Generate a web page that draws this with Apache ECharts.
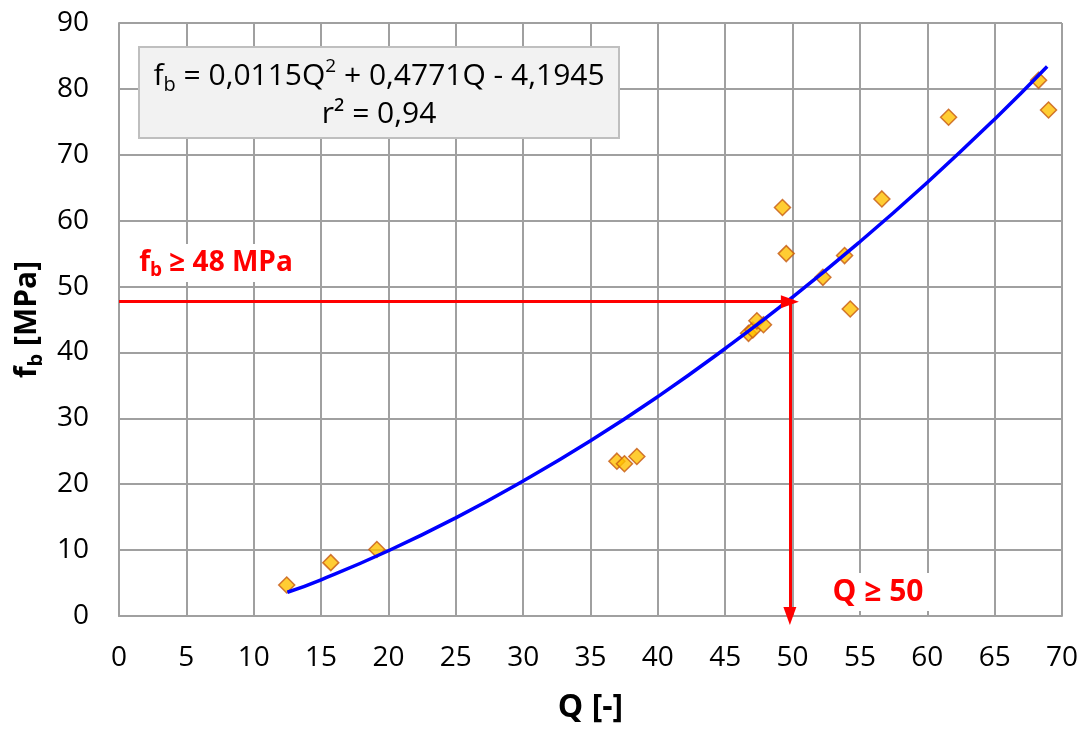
<!DOCTYPE html>
<html>
<head>
<meta charset="utf-8">
<script src="https://cdn.jsdelivr.net/npm/echarts@6/dist/echarts.min.js"></script>
<style>
html,body{margin:0;padding:0;background:#fff;}
#chart{width:1090px;height:731px;}
</style>
</head>
<body>
<div id="chart"></div>
<script>
// Measured points (Q, fb)
const qVals  = [12.45, 15.72, 19.14, 36.96, 37.52, 38.44, 46.73, 47.05, 47.35, 47.84, 49.25, 49.53, 52.25, 53.86, 54.28, 56.63, 61.58, 68.26, 69.0];
const fbVals = [4.7, 8.1, 10.1, 23.5, 23.1, 24.2, 42.9, 43.4, 44.8, 44.2, 62.0, 55.0, 51.4, 54.7, 46.6, 63.3, 75.7, 81.3, 76.8];
// Trend curve
const curveQ  = [12.5, 15, 20, 25, 30, 35, 40, 45, 50, 55, 60, 65, 68.9];
const curveFb = [3.6, 5.5, 9.9, 14.9, 20.5, 26.6, 33.3, 40.6, 48.4, 56.8, 65.8, 75.4, 83.4];
// Threshold arrows
const thresholdQ = 49.8;
const thresholdFb = 47.7;
// Axis ranges
const xMin = 0, xMax = 70, xStep = 5;
const yMin = 0, yMax = 90, yStep = 10;

const FONT = 'Open Sans';
const chart = echarts.init(document.getElementById('chart'));
const scatterData = qVals.map((q, i) => [q, fbVals[i]]);
const curveData = curveQ.map((q, i) => [q, curveFb[i]]);
const gridColor = '#a0a0a0';

chart.setOption({
  animation: false,
  backgroundColor: '#ffffff',
  grid: { left: 119, right: 28, top: 23, bottom: 115 },
  xAxis: {
    type: 'value', min: xMin, max: xMax, interval: xStep,
    name: 'Q [-]', nameLocation: 'middle', nameGap: 76,
    nameTextStyle: { fontFamily: FONT, fontSize: 32, fontWeight: 'bold', color: '#000' },
    axisLine: { lineStyle: { color: gridColor, width: 2 } },
    axisTick: { show: false },
    axisLabel: { fontFamily: FONT, fontSize: 28, color: '#000', margin: 28 },
    splitLine: { show: true, lineStyle: { color: gridColor, width: 2 } }
  },
  yAxis: {
    type: 'value', min: yMin, max: yMax, interval: yStep,
    name: '{m|f}{s|b}{m| [MPa]}', nameLocation: 'middle', nameGap: 72, nameRotate: 90,
    nameTextStyle: {
      rich: {
        m: { fontFamily: FONT, fontSize: 30, fontWeight: 'bold', color: '#000', lineHeight: 38 },
        s: { fontFamily: FONT, fontSize: 20, fontWeight: 'bold', color: '#000', lineHeight: 26, verticalAlign: 'bottom' }
      }
    },
    axisLine: { show: true, lineStyle: { color: gridColor, width: 2 } },
    axisTick: { show: false },
    axisLabel: { fontFamily: FONT, fontSize: 28, color: '#000', margin: 30 },
    splitLine: { show: true, lineStyle: { color: gridColor, width: 2 } }
  },
  series: [
    {
      type: 'scatter',
      data: scatterData,
      symbol: 'diamond',
      symbolSize: 16,
      itemStyle: { color: '#ffc000', borderColor: '#c65911', borderWidth: 1.5 },
      z: 3,
      markLine: {
        silent: true,
        symbol: ['none', 'triangle'],
        symbolSize: [13, 18],
        label: { show: false },
        lineStyle: { color: '#ff0000', width: 3, type: 'solid' },
        data: [
          [{ coord: [xMin, thresholdFb] }, { coord: [thresholdQ, thresholdFb] }],
          [{ coord: [thresholdQ, thresholdFb] }, { coord: [thresholdQ, yMin] }]
        ]
      }
    },
    {
      type: 'line',
      data: curveData,
      smooth: true,
      showSymbol: false,
      lineStyle: { color: '#0000ff', width: 3.5 },
      z: 4
    }
  ],
  graphic: [
    {
      type: 'rect',
      shape: { x: 139, y: 47, width: 480, height: 91 },
      style: { fill: '#f2f2f2', stroke: '#bfbfbf', lineWidth: 2 },
      z: 10
    },
    {
      type: 'text',
      x: 379, y: 76, z: 11,
      style: {
        text: '{m|f}{s|b}{m| = 0,0115Q}{p|2}{m| + 0,4771Q - 4,1945}',
        align: 'center', verticalAlign: 'middle',
        rich: {
          m: { fontFamily: FONT, fontSize: 30, fill: '#000', lineHeight: 38 },
          s: { fontFamily: FONT, fontSize: 20, fill: '#000', lineHeight: 24, verticalAlign: 'bottom' },
          p: { fontFamily: FONT, fontSize: 19, fill: '#000', lineHeight: 24, verticalAlign: 'top' }
        }
      }
    },
    {
      type: 'text',
      x: 379, y: 114, z: 11,
      style: {
        text: 'r² = 0,94', align: 'center', verticalAlign: 'middle',
        font: '30px "Open Sans"', fill: '#000'
      }
    },
    {
      type: 'text',
      x: 216, y: 263, z: 11,
      style: {
        text: '{m|f}{s|b}{m| ≥ 48 MPa}',
        align: 'center', verticalAlign: 'middle',
        backgroundColor: '#fff', padding: [2, 6, 2, 6],
        rich: {
          m: { fontFamily: FONT, fontSize: 28, fontWeight: 'bold', fill: '#ff0000', lineHeight: 34 },
          s: { fontFamily: FONT, fontSize: 19, fontWeight: 'bold', fill: '#ff0000', lineHeight: 22, verticalAlign: 'bottom' }
        }
      }
    },
    {
      type: 'text',
      x: 878, y: 592, z: 11,
      style: {
        text: 'Q ≥ 50', align: 'center', verticalAlign: 'middle',
        font: 'bold 30px "Open Sans"', fill: '#ff0000',
        backgroundColor: '#fff', padding: [4, 10, 4, 10]
      }
    }
  ]
});
</script>
</body>
</html>
